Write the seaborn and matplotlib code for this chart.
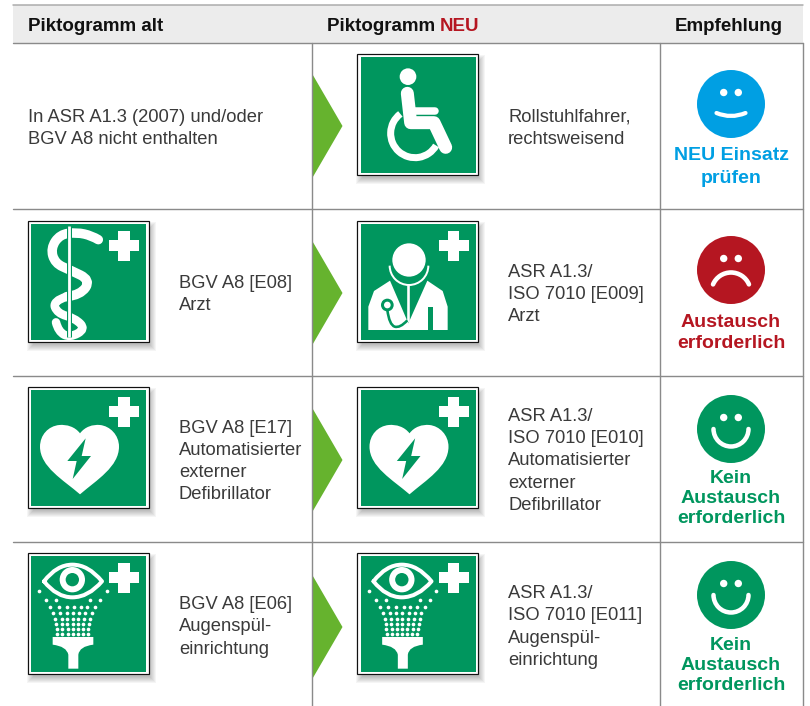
import matplotlib
matplotlib.use("Agg")
import matplotlib.pyplot as plt
import pandas as pd
import seaborn as sns
from matplotlib.patches import Circle, PathPatch, Polygon, Rectangle
from matplotlib.path import Path
from matplotlib.transforms import Affine2D

# table layout texts
HEADERS = ["Piktogramm alt", "Piktogramm ", "NEU", "Empfehlung"]
OLD_TEXT = [
    ["In ASR A1.3 (2007) und/oder", "BGV A8 nicht enthalten"],
    ["BGV A8 [E08]", "Arzt"],
    ["BGV A8 [E17]", "Automatisierter", "externer", "Defibrillator"],
    ["BGV A8 [E06]", "Augenspül-", "einrichtung"],
]
NEW_TEXT = [
    ["Rollstuhlfahrer,", "rechtsweisend"],
    ["ASR A1.3/", "ISO 7010 [E009]", "Arzt"],
    ["ASR A1.3/", "ISO 7010 [E010]", "Automatisierter", "externer", "Defibrillator"],
    ["ASR A1.3/", "ISO 7010 [E011]", "Augenspül-", "einrichtung"],
]
STATUS_TEXT = [
    ["NEU Einsatz", "prüfen"],
    ["Austausch", "erforderlich"],
    ["Kein", "Austausch", "erforderlich"],
    ["Kein", "Austausch", "erforderlich"],
]
OLD_BASE = [[122, 144], [288, 310], [433, 455, 477, 499], [609, 631, 654]]
NEW_BASE = [[122, 144], [277, 299, 321], [421, 443, 465, 488, 510], [598, 620, 643, 665]]
STATUS_BASE = [[160, 183], [327, 348], [483, 503, 523], [650, 670, 690]]
FACE_Y = [104, 270, 429, 595]
ARROW_Y = [126, 293, 460, 627]
ROW_LINES = [43, 209, 376, 542]
SIGN_Y = [54, 221, 387, 553]

GREEN = "#00965e"
ARROW = "#66b32e"
BLUE = "#009fe3"
RED = "#b51621"
TEXT = "#3a3a3a"
STATUS_COLORS = [BLUE, RED, GREEN, GREEN]
STATUS_MOUTH = ["flat", "sad", "happy", "happy"]

# eyewash spray dots, in 3x pixels of the sign crop
DOT_ROWS = {
    130: [57, 260],
    155: [78, 108, 210, 240],
    177: [90, 116, 140, 162, 182, 202, 225],
    195: [100, 120, 140, 158, 177, 196, 215],
    212: [105, 125, 142, 158, 175, 192, 210],
    228: [108, 125, 142, 158, 175, 190, 207],
    243: [110, 126, 143, 158, 173, 190, 205],
    257: [112, 127, 143, 158, 173, 188, 203],
}

sns.set_theme(style="white")
plt.rcParams["font.family"] = ["Liberation Sans", "DejaVu Sans"]

fig = plt.figure(figsize=(8.10, 7.06), dpi=100)
ax = fig.add_axes([0, 0, 1, 1])
ax.set_xlim(0, 810)
ax.set_ylim(706, 0)
ax.axis("off")


def px(w):
    return w * 0.72


def smooth(points):
    # quadratic spline through the midpoints of the control polygon
    verts = [points[0]]
    codes = [Path.MOVETO]
    for a, b in zip(points[1:-1], points[2:]):
        mid = ((a[0] + b[0]) / 2, (a[1] + b[1]) / 2)
        verts += [a, mid]
        codes += [Path.CURVE3, Path.CURVE3]
    verts[-1] = points[-1]
    return Path(verts, codes)


def arc(cx, cy, r, t1, t2):
    return Path.arc(t1, t2).transformed(Affine2D().scale(r).translate(cx, cy))


def stroke(path, width, tr, color="white", cap="round"):
    ax.add_patch(PathPatch(path, fill=False, ec=color, lw=px(width), capstyle=cap,
                           joinstyle="round", transform=tr))


def fill(path, tr, color="white"):
    ax.add_patch(PathPatch(path, fc=color, ec="none", lw=0, transform=tr))


def crop_tr(x, y, dx, dy):
    return Affine2D().scale(1 / 3).translate(x - dx, y - dy) + ax.transData


def sign(x, y):
    # soft shadow first, then frame and green field
    for grow in [4, 3, 2, 1, 0, -1, -2]:
        ax.add_patch(Rectangle((x + 3 - grow, y + 5 - grow), 121 + 2 * grow, 121 + 2 * grow,
                               fc="black", ec="none", alpha=0.04))
    ax.add_patch(Rectangle((x, y), 121, 121, fc="white", ec="#111111", lw=px(1.2)))
    ax.add_patch(Rectangle((x + 3.5, y + 3), 115, 116, fc=GREEN, ec="none"))


def plus(x, y):
    cx, cy = x + 96.5, y + 24.5
    ax.add_patch(Rectangle((cx - 15, cy - 5.7), 30, 11.4, fc="white", ec="none"))
    ax.add_patch(Rectangle((cx - 5.7, cy - 15), 11.4, 30, fc="white", ec="none"))


def wheelchair(x, y):
    tr = crop_tr(x, y, 57, 14)
    ax.add_patch(Circle((324, 110), 25, fc="white", ec="none", transform=tr))
    stroke(arc(345, 280, 73, 30, 233), 7, tr, cap="butt")
    stroke(Path([(322, 160), (332, 248), (402, 248), (437, 322)]), 13, tr)
    stroke(Path([(340, 213), (405, 213)]), 7.5, tr)


def staff(x, y):
    tr = crop_tr(x, y, 7.5, 6)
    upper = [(235, 74), (215, 62), (170, 52), (120, 58), (92, 100), (105, 145), (150, 165),
             (212, 195), (182, 240), (140, 245)]
    lower = [(140, 245), (98, 258), (112, 295), (165, 310), (197, 342), (150, 368), (115, 350), (108, 322)]
    stroke(smooth(upper), 9.5, tr)
    stroke(smooth(lower), 8.5, tr)
    stroke(Path([(146, 32), (146, 365)]), 5, tr, color=GREEN, cap="butt")
    stroke(Path([(146, 32), (146, 365)]), 2.8, tr, cap="butt")


def doctor(x, y):
    tr = crop_tr(x, y, 7, 6)
    ax.add_patch(Polygon([(55, 345), (55, 275), (72, 228), (120, 197), (175, 325), (232, 197),
                          (278, 228), (293, 275), (293, 345)], fc="white", ec="none", transform=tr))
    fill(Path.circle((177, 135), 50), tr)
    stroke(arc(177, 152, 58, 0, 180), 2, tr, cap="butt")
    stroke(Path([(175, 210), (175, 322)]), 2.6, tr, cap="butt")
    stroke(smooth([(172, 316), (150, 340), (118, 330), (112, 285)]), 2.6, tr, color=GREEN, cap="butt")
    ax.add_patch(Circle((112, 270), 19, fc=GREEN, ec="none", transform=tr))
    ax.add_patch(Circle((112, 270), 10, fc="white", ec="none", transform=tr))
    ax.add_patch(Rectangle((235, 275), 15, 70, fc=GREEN, ec="none", transform=tr))


def heart(x, y):
    tr = crop_tr(x, y, 7.5, 7)
    verts = [(180, 160), (165, 140), (140, 133), (118, 135), (85, 138), (60, 165), (60, 200),
             (60, 260), (130, 300), (180, 343), (230, 300), (297, 260), (297, 200),
             (297, 165), (270, 138), (240, 135), (218, 133), (195, 140), (180, 160)]
    codes = [Path.MOVETO] + [Path.CURVE4] * 18
    fill(Path(verts, codes), tr)
    ax.add_patch(Polygon([(197, 175), (142, 243), (170, 243), (158, 297), (213, 228), (185, 228)],
                         fc=GREEN, ec="none", transform=tr))


def eyewash(x, y):
    tr = crop_tr(x, y, 7.5, 5)
    eye = Path([(72, 100), (110, 50), (157, 50), (205, 50), (246, 100), (205, 148), (157, 148), (110, 148), (72, 100)],
               [Path.MOVETO] + [Path.CURVE3] * 8)
    stroke(eye, 4, tr)
    ax.add_patch(Circle((157, 95), 38, fc="white", ec="none", transform=tr))
    ax.add_patch(Circle((157, 95), 20, fc=GREEN, ec="none", transform=tr))
    nozzle = Path([(98, 267), (220, 267), (220, 290), (178, 295), (175, 320), (175, 362), (145, 362),
                   (145, 320), (140, 295), (98, 290), (98, 267)],
                  [Path.MOVETO, Path.LINETO, Path.LINETO, Path.CURVE3, Path.CURVE3, Path.LINETO, Path.LINETO,
                   Path.LINETO, Path.CURVE3, Path.CURVE3, Path.CLOSEPOLY])
    fill(nozzle, tr)
    dots = pd.DataFrame([{"x": x - 7.5 + dx / 3, "y": y - 5 + yy / 3}
                         for yy, xs in DOT_ROWS.items() for dx in xs])
    sns.scatterplot(data=dots, x="x", y="y", color="white", s=7, linewidth=0, ax=ax, legend=False, zorder=5)


def face(cy, color, mouth):
    cx = 731
    ax.add_patch(Circle((cx, cy), 34, fc=color, ec="none"))
    ax.add_patch(Circle((cx - 7.3, cy - 11.5), 3.7, fc="white", ec="none"))
    ax.add_patch(Circle((cx + 7.3, cy - 11.5), 3.7, fc="white", ec="none"))
    tr = ax.transData
    if mouth == "flat":
        stroke(smooth([(cx - 14.5, cy + 9), (cx, cy + 15), (cx + 14.5, cy + 9)]), 4.2, tr)
    elif mouth == "sad":
        stroke(arc(cx, cy + 22, 19.5, 203, 337), 4.6, tr)
    else:
        stroke(arc(cx, cy, 17.5, 0, 180), 4.5, tr)


# header band and grid lines
ax.add_patch(Rectangle((13, 5), 790, 38, fc="#ececec", ec="none"))
ax.plot([13, 803], [5, 5], color="#aaaaaa", lw=px(1.5))
for y in ROW_LINES:
    ax.plot([13, 803], [y, y], color="#8a8a8a", lw=px(1.4))
for x in [311.5, 659.5, 803]:
    ax.plot([x, x], [43, 706], color="#8a8a8a", lw=px(1.4))

head_kw = dict(fontsize=13.5, fontweight="bold", color="#111111", va="baseline")
ax.text(28, 31, HEADERS[0], **head_kw)
ax.text(327, 31, HEADERS[1], **head_kw)
ax.text(440, 31, HEADERS[2], fontsize=13.5, fontweight="bold", color=RED, va="baseline")
ax.text(675, 31, HEADERS[3], **head_kw)

old_icons = [None, staff, heart, eyewash]
new_icons = [wheelchair, doctor, heart, eyewash]

for i in range(4):
    ay = ARROW_Y[i]
    ax.add_patch(Polygon([(312, ay - 52.5), (342.5, ay), (312, ay + 52.5)], fc=ARROW, ec="none"))

    old_x = 28 if i == 0 else 179
    for line, y in zip(OLD_TEXT[i], OLD_BASE[i]):
        ax.text(old_x, y, line, fontsize=13.2, color=TEXT, va="baseline")
    for line, y in zip(NEW_TEXT[i], NEW_BASE[i]):
        ax.text(508, y, line, fontsize=13.2, color=TEXT, va="baseline")
    for line, y in zip(STATUS_TEXT[i], STATUS_BASE[i]):
        ax.text(731, y, line, fontsize=14, fontweight="bold", color=STATUS_COLORS[i], ha="center", va="baseline")

    if old_icons[i] is not None:
        sign(27.5, SIGN_Y[i])
        old_icons[i](27.5, SIGN_Y[i])
        plus(27.5, SIGN_Y[i])
    sign(357, SIGN_Y[i])
    new_icons[i](357, SIGN_Y[i])
    if i > 0:
        plus(357, SIGN_Y[i])

    face(FACE_Y[i], STATUS_COLORS[i], STATUS_MOUTH[i])

# scatterplot resets the labels and limits on the shared axes
ax.set_xlim(0, 810)
ax.set_ylim(706, 0)
ax.axis("off")

fig.savefig("out.png", dpi=100)
